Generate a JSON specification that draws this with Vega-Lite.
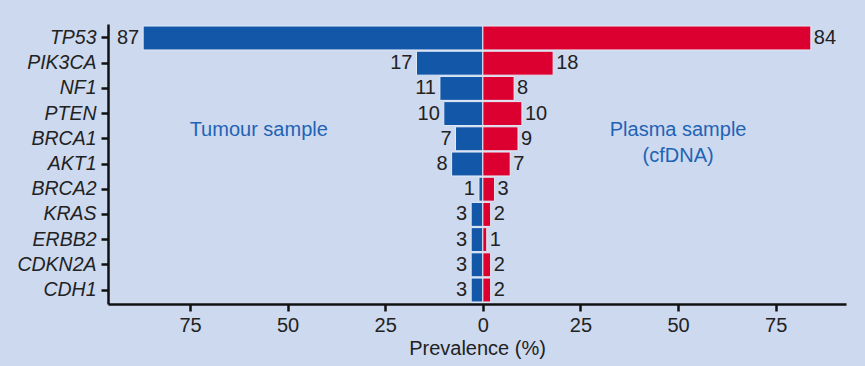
{
  "$schema": "https://vega.github.io/schema/vega-lite/v6.json",
  "width": 738,
  "height": 280,
  "autosize": "none",
  "padding": {"left": 108, "top": 24, "right": 19, "bottom": 62},
  "background": "#cdd9ef",
  "config": {
    "view": {"stroke": null},
    "font": "Liberation Sans",
    "text": {"font": "Liberation Sans"}
  },
  "datasets": {
    "prev": [
      {"gene": "TP53", "sample": "Tumour", "value": 87},
      {"gene": "PIK3CA", "sample": "Tumour", "value": 17},
      {"gene": "NF1", "sample": "Tumour", "value": 11},
      {"gene": "PTEN", "sample": "Tumour", "value": 10},
      {"gene": "BRCA1", "sample": "Tumour", "value": 7},
      {"gene": "AKT1", "sample": "Tumour", "value": 8},
      {"gene": "BRCA2", "sample": "Tumour", "value": 1},
      {"gene": "KRAS", "sample": "Tumour", "value": 3},
      {"gene": "ERBB2", "sample": "Tumour", "value": 3},
      {"gene": "CDKN2A", "sample": "Tumour", "value": 3},
      {"gene": "CDH1", "sample": "Tumour", "value": 3},
      {"gene": "TP53", "sample": "Plasma", "value": 84},
      {"gene": "PIK3CA", "sample": "Plasma", "value": 18},
      {"gene": "NF1", "sample": "Plasma", "value": 8},
      {"gene": "PTEN", "sample": "Plasma", "value": 10},
      {"gene": "BRCA1", "sample": "Plasma", "value": 9},
      {"gene": "AKT1", "sample": "Plasma", "value": 7},
      {"gene": "BRCA2", "sample": "Plasma", "value": 3},
      {"gene": "KRAS", "sample": "Plasma", "value": 2},
      {"gene": "ERBB2", "sample": "Plasma", "value": 1},
      {"gene": "CDKN2A", "sample": "Plasma", "value": 2},
      {"gene": "CDH1", "sample": "Plasma", "value": 2}
    ],
    "notes": [
      {"gene": "BRCA1", "pos": -57.4, "label": "Tumour sample", "shift": -9},
      {"gene": "BRCA1", "pos": 50, "label": "Plasma sample", "shift": -9},
      {"gene": "AKT1", "pos": 50, "label": "(cfDNA)", "shift": -8}
    ]
  },
  "data": {"name": "prev"},
  "transform": [
    {"calculate": "datum.sample === 'Tumour' ? -datum.value : datum.value", "as": "signed"}
  ],
  "encoding": {
    "y": {
      "field": "gene",
      "type": "nominal",
      "sort": ["TP53", "PIK3CA", "NF1", "PTEN", "BRCA1", "AKT1", "BRCA2", "KRAS", "ERBB2", "CDKN2A", "CDH1"],
      "scale": {"paddingInner": 0.05, "paddingOuter": 0.08},
      "axis": {
        "title": null,
        "domainColor": "#111",
        "domainWidth": 2.5,
        "tickColor": "#111",
        "tickWidth": 2.5,
        "tickSize": 7,
        "labelFontSize": 19.5,
        "labelFontStyle": "italic",
        "labelColor": "#222",
        "labelPadding": 5,
        "labelFont": "Liberation Sans"
      }
    }
  },
  "layer": [
    {
      "mark": {"type": "bar", "stroke": "#e4ebf7", "strokeWidth": 1},
      "encoding": {
        "x": {
          "field": "signed",
          "type": "quantitative",
          "scale": {"domain": [-96, 93], "nice": false, "zero": true},
          "axis": {
            "values": [-75, -50, -25, 0, 25, 50, 75],
            "labelExpr": "abs(datum.value)",
            "grid": false,
            "title": "Prevalence (%)",
            "titleFontSize": 20,
            "titleFontWeight": "normal",
            "titleColor": "#222",
            "titleFont": "Liberation Sans",
            "titlePadding": 3,
            "domainColor": "#111",
            "domainWidth": 2.5,
            "tickColor": "#111",
            "tickWidth": 2.5,
            "tickSize": 7,
            "labelFontSize": 20,
            "labelColor": "#222",
            "labelFont": "Liberation Sans",
            "labelPadding": 4
          }
        },
        "color": {
          "field": "sample",
          "type": "nominal",
          "scale": {"domain": ["Tumour", "Plasma"], "range": ["#1257a8", "#dc0031"]},
          "legend": null
        }
      }
    },
    {
      "transform": [{"filter": "datum.sample === 'Tumour'"}],
      "mark": {"type": "text", "align": "right", "baseline": "middle", "dx": -4, "fontSize": 20, "color": "#222"},
      "encoding": {
        "x": {"field": "signed", "type": "quantitative"},
        "text": {"field": "value", "type": "quantitative"}
      }
    },
    {
      "transform": [{"filter": "datum.sample === 'Plasma'"}],
      "mark": {"type": "text", "align": "left", "baseline": "middle", "dx": 3, "fontSize": 20, "color": "#222"},
      "encoding": {
        "x": {"field": "signed", "type": "quantitative"},
        "text": {"field": "value", "type": "quantitative"}
      }
    },
    {
      "data": {"name": "notes"},
      "transform": [{"filter": "datum.shift === -9"}],
      "mark": {"type": "text", "align": "center", "baseline": "middle", "dy": -9, "fontSize": 20, "color": "#1f63b5"},
      "encoding": {
        "x": {"field": "pos", "type": "quantitative"},
        "text": {"field": "label", "type": "nominal"}
      }
    },
    {
      "data": {"name": "notes"},
      "transform": [{"filter": "datum.shift === -8"}],
      "mark": {"type": "text", "align": "center", "baseline": "middle", "dy": -8, "fontSize": 20, "color": "#1f63b5"},
      "encoding": {
        "x": {"field": "pos", "type": "quantitative"},
        "text": {"field": "label", "type": "nominal"}
      }
    }
  ]
}
